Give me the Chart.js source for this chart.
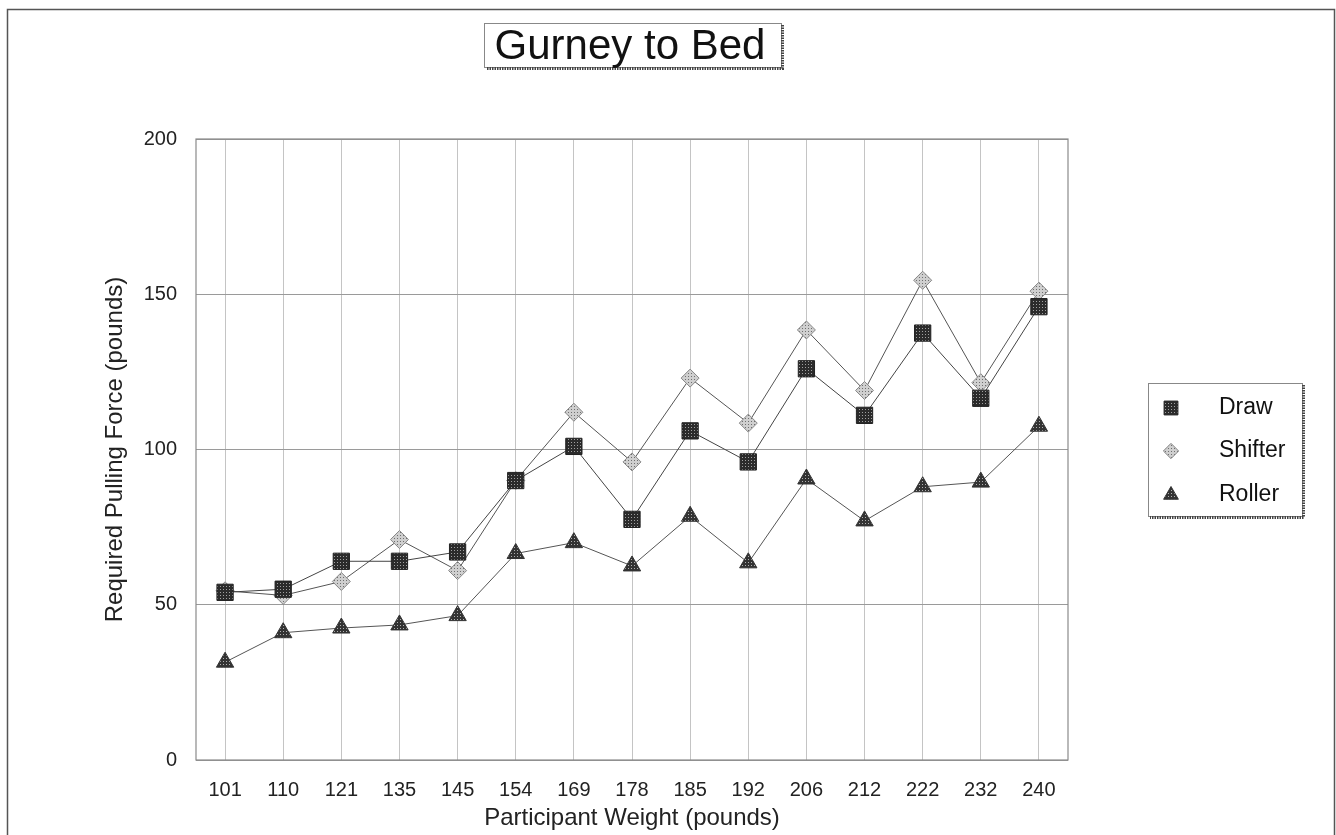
<!DOCTYPE html>
<html>
<head>
<meta charset="utf-8">
<title>Gurney to Bed</title>
<script src="https://cdn.jsdelivr.net/npm/chart.js@4/dist/chart.umd.min.js"></script>
<style>
    html, body { margin: 0; padding: 0; background: #fff; }
    #wrap { width: 1336px; height: 835px; position: relative; }
</style>
</head>
<body>
<div id="wrap"><canvas id="gurneyChart" width="1336" height="835"></canvas></div>
<script>
// Data
const weights = ['101', '110', '121', '135', '145', '154', '169', '178', '185', '192', '206', '212', '222', '232', '240'];
const drawForce = [54, 55, 64, 64, 67, 90, 101, 77.5, 106, 96, 126, 111, 137.5, 116.5, 146];
const shifterForce = [54.5, 53, 57.5, 71, 61, 90, 112, 96, 123, 108.5, 138.5, 119, 154.5, 121.5, 151];
const rollerForce = [31.5, 41, 42.5, 43.5, 46.5, 66.5, 70, 62.5, 78.5, 63.5, 90.5, 77, 88, 89.5, 107.5];
const yTicks = [0, 50, 100, 150, 200];

const FONT = 'Arial, "Liberation Sans", sans-serif';

// small dotted fill, like the halftone markers in the original
const makePattern = (bg, dot) => {
    const c = document.createElement('canvas');
    c.width = 3;
    c.height = 3;
    const g = c.getContext('2d');
    g.fillStyle = bg;
    g.fillRect(0, 0, 3, 3);
    g.fillStyle = dot;
    g.fillRect(1, 1, 1, 1);
    return g.createPattern(c, 'repeat');
};

const drawFill = makePattern('#2b2b2b', '#a0a0a0');
const shifterFill = makePattern('#cfcfcf', '#6f6f6f');
const rollerFill = makePattern('#333333', '#b0b0b0');

// frame, title box, plot border and legend
const decorations = {
    id: 'decorations',
    beforeDatasetsDraw(chart) {
        const ctx = chart.ctx;
        const a = chart.chartArea;
        ctx.save();
        ctx.strokeStyle = '#8a8a8a';
        ctx.lineWidth = 1.2;
        ctx.strokeRect(a.left, a.top, a.right - a.left, a.bottom - a.top);
        ctx.restore();
    },
    afterDraw(chart) {
        const ctx = chart.ctx;
        ctx.save();

        // outer frame
        ctx.strokeStyle = '#555';
        ctx.lineWidth = 1.5;
        ctx.beginPath();
        ctx.moveTo(7.5, 835);
        ctx.lineTo(7.5, 9.5);
        ctx.lineTo(1334.5, 9.5);
        ctx.lineTo(1334.5, 835);
        ctx.stroke();

        const shadowBox = (x, y, w, h) => {
            ctx.fillStyle = '#fff';
            ctx.fillRect(x, y, w, h);
            ctx.strokeStyle = '#888';
            ctx.lineWidth = 1;
            ctx.strokeRect(x + 0.5, y + 0.5, w, h);
            ctx.strokeStyle = '#444';
            ctx.lineWidth = 3;
            ctx.setLineDash([1.5, 1]);
            ctx.beginPath();
            ctx.moveTo(x + w + 1.5, y + 2);
            ctx.lineTo(x + w + 1.5, y + h + 1.5);
            ctx.lineTo(x + 2, y + h + 1.5);
            ctx.stroke();
            ctx.setLineDash([]);
        };

        // title
        shadowBox(484, 23, 297, 44);
        ctx.fillStyle = '#111';
        ctx.font = '42px ' + FONT;
        ctx.textAlign = 'center';
        ctx.textBaseline = 'middle';
        ctx.fillText('Gurney to Bed', 630, 47);

        // legend
        shadowBox(1148, 383, 154, 133);
        const rows = [408, 451, 495];
        chart.data.datasets.forEach((ds, i) => {
            const y = rows[i];
            ctx.fillStyle = ds.pointBackgroundColor;
            ctx.strokeStyle = ds.pointBorderColor;
            ctx.lineWidth = 1;
            Chart.helpers.drawPoint(ctx, {
                pointStyle: ds.pointStyle,
                radius: ds.pointRadius * 0.85,
                rotation: 0,
                borderWidth: 1
            }, 1171, y);
            ctx.fillStyle = '#111';
            ctx.font = '23px ' + FONT;
            ctx.textAlign = 'left';
            ctx.textBaseline = 'middle';
            ctx.fillText(ds.label, 1219, y);
        });

        ctx.restore();
    }
};

document.addEventListener('DOMContentLoaded', function() {
    const ctx = document.getElementById('gurneyChart').getContext('2d');

    new Chart(ctx, {
        type: 'line',
        data: {
            labels: weights,
            datasets: [{
                label: 'Draw',
                data: drawForce,
                borderColor: '#444',
                borderWidth: 1,
                pointStyle: 'rect',
                pointRadius: 11.5,
                pointBackgroundColor: drawFill,
                pointBorderColor: '#222',
                pointBorderWidth: 1,
                tension: 0
            }, {
                label: 'Shifter',
                data: shifterForce,
                borderColor: '#555',
                borderWidth: 1,
                pointStyle: 'rectRot',
                pointRadius: 9,
                pointBackgroundColor: shifterFill,
                pointBorderColor: '#888',
                pointBorderWidth: 1,
                tension: 0
            }, {
                label: 'Roller',
                data: rollerForce,
                borderColor: '#555',
                borderWidth: 1,
                pointStyle: 'triangle',
                pointRadius: 10,
                pointBackgroundColor: rollerFill,
                pointBorderColor: '#333',
                pointBorderWidth: 1,
                tension: 0
            }]
        },
        options: {
            responsive: false,
            animation: false,
            layout: {
                padding: { left: 100, right: 268, top: 139, bottom: 0 }
            },
            plugins: {
                legend: { display: false },
                title: { display: false },
                tooltip: { enabled: false }
            },
            scales: {
                x: {
                    offset: true,
                    afterFit: (scale) => { scale.height = 75; },
                    grid: { offset: false, color: '#c4c4c4', drawTicks: false },
                    border: { display: false },
                    ticks: {
                        color: '#222',
                        font: { size: 20, family: FONT },
                        padding: 18,
                        maxRotation: 0,
                        autoSkip: false
                    },
                    title: {
                        display: true,
                        text: 'Participant Weight (pounds)',
                        color: '#222',
                        font: { size: 24, family: FONT },
                        padding: { top: 0, bottom: 2 }
                    }
                },
                y: {
                    min: 0,
                    max: 200,
                    afterFit: (scale) => { scale.width = 96; },
                    afterBuildTicks: (scale) => { scale.ticks = yTicks.map(v => ({ value: v })); },
                    grid: { color: '#9a9a9a', drawTicks: false },
                    border: { display: false },
                    ticks: {
                        color: '#222',
                        font: { size: 20, family: FONT },
                        padding: 19
                    },
                    title: {
                        display: true,
                        text: 'Required Pulling Force (pounds)',
                        color: '#222',
                        font: { size: 24, family: FONT },
                        padding: { top: 1, bottom: 0 }
                    }
                }
            }
        },
        plugins: [decorations]
    });
});
</script>
</body>
</html>
